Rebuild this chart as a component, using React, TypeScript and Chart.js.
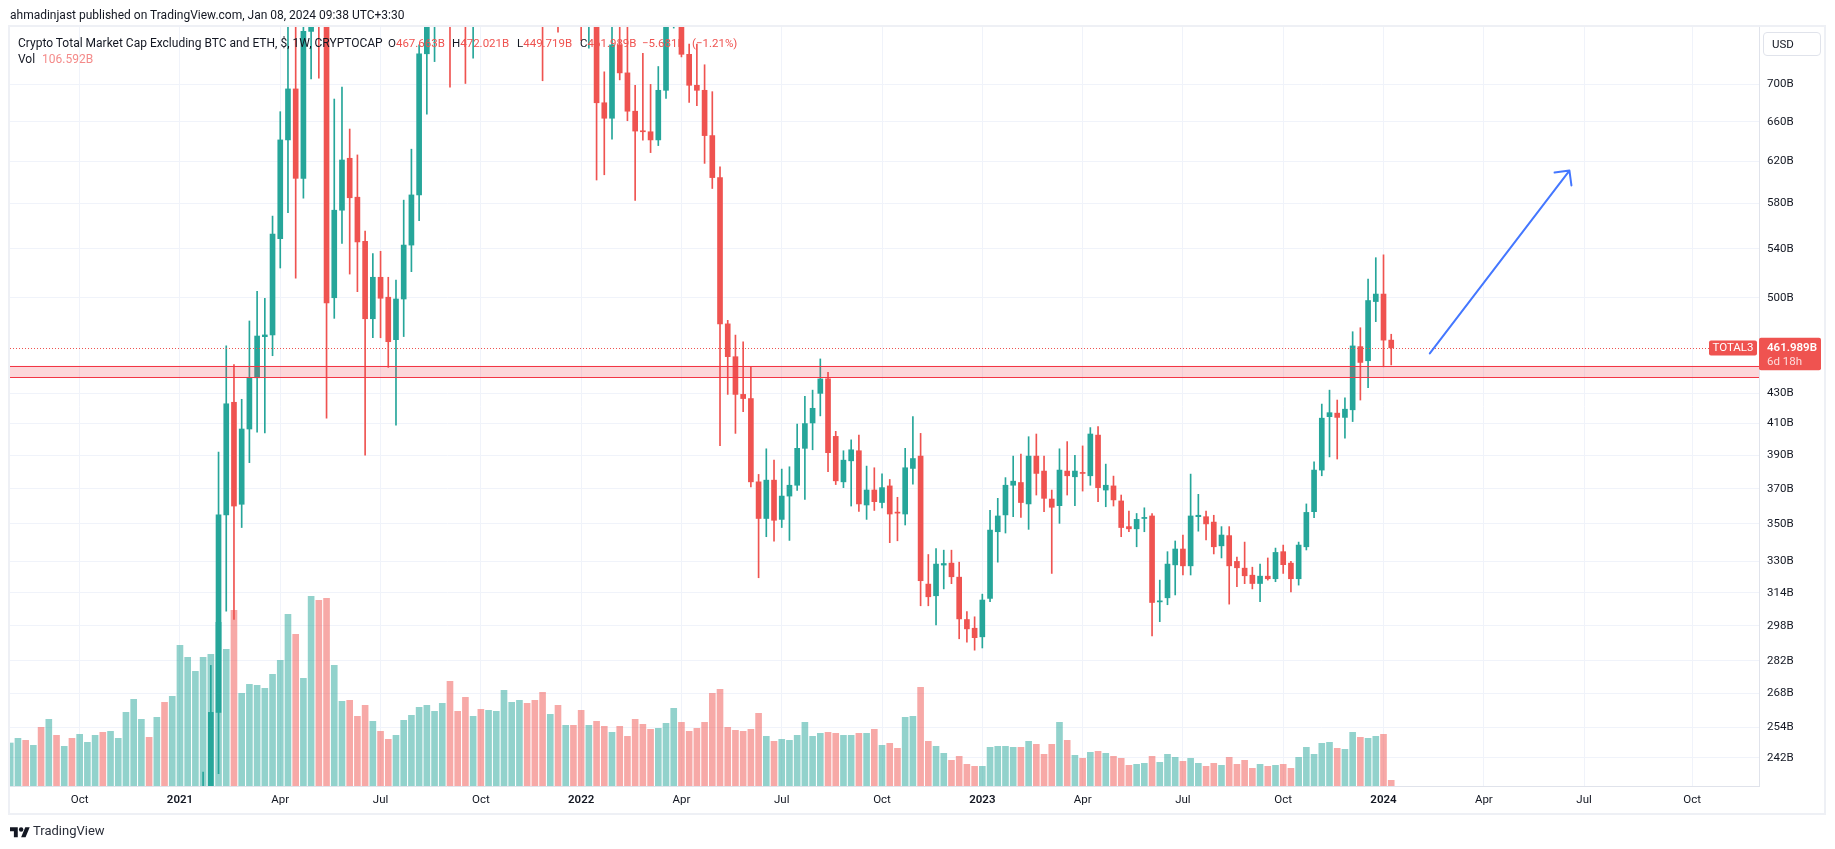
import React, { useEffect, useRef } from 'react';
import { Chart, registerables } from 'chart.js';

Chart.register(...registerables);

// ---------------- data (weekly candles, values in billions USD) ----------------
// week offset of the first candle, counted from the week of 2024-01-01 (first candle = week of 2020-08-03)
const FIRST_WEEK = -178;

const OPEN = [
  98, 108, 113, 106, 110, 92, 98, 93, 95, 90,
  92, 96, 98, 94, 98, 104, 112, 125, 130, 122,
  132, 128, 140, 175, 190, 198, 222, 260, 355, 424,
  361, 406.5, 440.7, 470.2, 471.5, 548.8, 641.3, 695, 603.6, 761,
  820, 800, 500, 574, 623, 585.9, 546.5, 483.7, 516.4, 500.4,
  468, 499, 543.3, 588, 734.6, 800, 830, 880, 820, 800,
  780, 830, 820, 860, 880, 940, 980, 1060, 1040, 990,
  880, 890, 820, 850, 830, 780, 790, 680, 663.6, 745,
  712.8, 671, 650.3, 649.6, 641.3, 693.5, 790, 800, 734, 699,
  693.5, 645.7, 604.3, 479.8, 455.6, 429.3, 426.5, 374, 353, 375,
  352.5, 365.7, 372, 394.3, 410.4, 430, 440, 401.8, 374, 386.6,
  392.8, 360.6, 369.2, 362, 371.6, 356.5, 355.5, 382, 389.5, 318.3,
  312.5, 328, 329, 321.8, 301, 296.9, 292.9, 311.2, 345.7, 355,
  372, 373.6, 361.2, 389.5, 380.4, 364, 360.2, 380.4, 377, 379.4,
  377.6, 402.6, 369.2, 371.6, 362.9, 348.5, 347.3, 353, 354.4, 309.5,
  311.5, 328.1, 336.4, 327.6, 354, 354, 351, 338.1, 343.6, 329.9,
  326.4, 322.8, 318.6, 322.3, 321, 335, 329, 321, 337.6, 356.8,
  381, 414.5, 416.8, 414, 419, 462.9, 452.7, 497, 502.9, 467.663,
];

const HIGH = [
  112, 118, 116, 113, 112, 101, 100, 98, 97, 95,
  98, 101, 100, 100, 106, 115, 130, 134, 133, 136,
  140, 145, 182, 200, 205, 236.6, 280, 392, 463.5, 450,
  426, 482, 505, 499.5, 568.7, 670.5, 790, 775, 800, 880,
  900, 860, 684, 697, 652.4, 626.3, 555.5, 536, 538, 516.4,
  514.2, 583.2, 632, 745, 830, 860, 900, 960, 860, 830,
  850, 900, 880, 910, 960, 1000, 1080, 1130, 1060, 1010,
  910, 900, 870, 880, 850, 800, 810, 714, 775, 772,
  767, 699, 735, 700, 720, 810, 840, 830, 746, 746,
  722, 692, 614.6, 482.5, 471.4, 466.5, 448.4, 378.4, 394, 387,
  381.6, 383, 409.6, 428, 432.2, 454, 444.5, 405, 392.8, 399.6,
  402.6, 383.4, 382.4, 378.8, 375.4, 365, 394.3, 414.5, 403.7, 333.5,
  336.7, 335.8, 335.8, 329.5, 304.8, 302.3, 313.3, 357.6, 364.4, 376.5,
  389.5, 390.7, 401.6, 403.3, 389.5, 369.2, 394, 398.5, 390, 395.8,
  407.4, 408, 384.6, 377.4, 366.3, 357.2, 355.8, 359, 355.8, 320.3,
  335, 340.7, 343.9, 378.6, 366.7, 357.2, 354.8, 348.5, 348.5, 332.2,
  340.1, 326.9, 328.5, 331.7, 336.9, 338.5, 329.9, 340.1, 361.2, 386,
  422.8, 432.2, 425.5, 427, 473.9, 476.9, 515, 532.6, 535, 472.021,
];

const LOW = [
  95, 104, 104, 103, 88, 89, 90, 91, 88, 88,
  90, 94, 92, 92, 96, 102, 110, 118, 117, 120,
  120, 125, 136, 160, 170, 185, 215, 236, 305, 301,
  348, 385.5, 404.5, 404, 456.3, 524, 571.8, 515.6, 585, 706,
  707, 413.5, 484, 544.7, 519, 504.8, 390, 469.4, 469.4, 448,
  409, 470.3, 521, 564.6, 667.8, 725.6, 767, 697, 775, 701,
  729.5, 790, 790, 820, 850, 900, 950, 1000, 950, 704,
  790, 760, 790, 800, 750, 741, 602, 607, 642, 705,
  661, 583, 641, 628.6, 635.6, 684.6, 765, 731, 680.5, 677,
  618, 594, 396, 429.3, 403.7, 417.8, 371, 321.5, 343, 340.6,
  348, 341, 369, 363.8, 393.4, 415, 380, 372.4, 370.6, 360,
  357, 352.5, 357.5, 359, 339.8, 340.8, 349.4, 372.6, 307.6, 307.6,
  298.5, 315.9, 318.5, 292, 290.4, 286.8, 287.8, 309.6, 329.5, 345,
  354, 353.6, 347, 366.3, 356.8, 323.7, 350.3, 366.3, 360.2, 368.6,
  372, 362.5, 359.6, 360, 343, 345.7, 337.6, 345.7, 293.3, 300,
  308.1, 312.9, 322.9, 322.9, 346, 341.2, 333.8, 331.7, 308.4, 317,
  318.5, 315.9, 309.6, 320.3, 319.5, 323.7, 314.4, 317.8, 335.9, 353.4,
  377.6, 389, 387.7, 400.6, 411.3, 425.5, 433.9, 481.5, 448.4, 449.719,
];

const CLOSE = [
  108, 113, 106, 110, 92, 98, 93, 95, 90, 92,
  96, 98, 94, 98, 104, 112, 125, 130, 122, 132,
  128, 140, 175, 190, 198, 222, 260, 355, 423, 360,
  406.5, 440.7, 470.7, 471.5, 552.8, 641.3, 695, 603.6, 761, 820,
  800, 496, 574, 621.3, 585.4, 546, 483.7, 516.4, 499.6, 466.5,
  499, 543.3, 588, 734.6, 800, 830, 880, 820, 800, 780,
  830, 820, 860, 880, 940, 980, 1060, 1040, 990, 880,
  890, 820, 850, 830, 780, 790, 680, 663.6, 745, 712.8,
  671, 650.3, 649.6, 641.3, 693.5, 790, 800, 734, 699, 693.5,
  645.7, 604.3, 479.8, 455.6, 429.3, 426.5, 374, 353, 375, 352,
  365.7, 372, 394.3, 410, 420, 439.9, 391.6, 374.6, 387, 393.4,
  361.2, 369.2, 362.5, 370.6, 355.5, 356, 382.4, 388, 320, 312,
  328.5, 328.8, 322, 301.3, 296.6, 292.5, 310.4, 346.6, 354.4, 372,
  374.4, 362, 389.5, 379, 364.4, 359.3, 381, 377.6, 380.4, 379,
  403.3, 370.6, 372, 363.5, 348, 347.3, 352.5, 353.6, 309.2, 310,
  328.5, 336.4, 327.6, 354.4, 354.8, 350, 337.6, 343.9, 327.6, 326.6,
  322.5, 318.6, 322.3, 321, 334.6, 328.2, 321, 338.5, 356.4, 381,
  413.5, 417.1, 414, 419.4, 463.4, 451.5, 497.8, 502.9, 467.67, 461.989,
];

const VOLUME = [
  770, 853, 817, 729, 1048, 1191, 906, 711, 853, 924,
  782, 906, 960, 977, 853, 1315, 1546, 1191, 871, 1226,
  1493, 1599, 2505, 2292, 2043, 2292, 2346, 2914, 2434, 3127,
  1653, 1812, 1795, 1741, 1990, 2239, 3056, 2701, 1919, 3376,
  3305, 3341, 2150, 1510, 1528, 1244, 1439, 1155, 977, 835,
  906, 1173, 1262, 1404, 1439, 1333, 1475, 1866, 1333, 1581,
  1244, 1368, 1350, 1333, 1706, 1493, 1528, 1475, 1528, 1670,
  1279, 1439, 1084, 1084, 1350, 1084, 1155, 1066, 960, 1066,
  888, 1191, 1102, 1013, 1031, 1119, 1386, 1137, 977, 1031,
  1137, 1653, 1724, 1048, 995, 977, 1013, 1297, 888, 800,
  835, 817, 906, 1137, 888, 942, 960, 942, 906, 906,
  942, 942, 1013, 729, 764, 675, 1226, 1244, 1759, 800,
  711, 586, 462, 533, 391, 355, 355, 693, 711, 711,
  693, 693, 800, 746, 569, 746, 1137, 817, 551, 498,
  604, 622, 586, 533, 498, 373, 391, 409, 533, 426,
  569, 515, 444, 498, 409, 355, 409, 373, 515, 391,
  462, 320, 391, 355, 373, 391, 320, 515, 693, 569,
  764, 782, 675, 657, 960, 871, 853, 888, 924, 106.592,
];

const Y_TICKS = [242, 254, 268, 282, 298, 314, 330, 350, 370, 390, 410, 430, 500, 540, 580, 620, 660, 700];
const X_TICK_WEEKS = [-169, -156, -143, -130, -117, -104, -91, -78, -65, -52, -39, -26, -13, 0, 13, 26, 40];
const X_TICK_LABELS = ['Oct', '2021', 'Apr', 'Jul', 'Oct', '2022', 'Apr', 'Jul', 'Oct', '2023', 'Apr', 'Jul', 'Oct', '2024', 'Apr', 'Jul', 'Oct'];

const ZONE_LOW = 441;
const ZONE_HIGH = 449.1;
const ARROW_FROM = { week: 6, value: 458 };
const ARROW_TO = { week: 24.1, value: 611 };

const SYMBOL = 'TOTAL3';
const COUNTDOWN = '6d 18h';
const TITLE = 'Crypto Total Market Cap Excluding BTC and ETH, $, 1W, CRYPTOCAP';
const PUBLISHED = 'ahmadinjast published on TradingView.com, Jan 08, 2024 09:38 UTC+3:30';

// ---------------- view / style ----------------
const X_MIN = -178.03;
const X_MAX = 48.67;
const Y_MIN = 231.5;
const Y_MAX = 766.3;
const VOL_MAX = 13487;

const UP = '#26a69a';
const DOWN = '#ef5350';
const VOL_UP = 'rgba(38,166,154,0.5)';
const VOL_DOWN = 'rgba(239,83,80,0.5)';
const GRID = '#f0f3fa';
const TEXT = '#131722';
const FONT = 'Roboto, "Noto Sans", sans-serif';

const fmtB = (v: number) => v.toFixed(3) + 'B';
const minus = (v: number) => (v < 0 ? '\u2212' : '+') + Math.abs(v).toFixed(3);

function roundRect(ctx: CanvasRenderingContext2D, x: number, y: number, w: number, h: number, r: number) {
  ctx.beginPath();
  ctx.moveTo(x + r, y);
  ctx.lineTo(x + w - r, y);
  ctx.quadraticCurveTo(x + w, y, x + w, y + r);
  ctx.lineTo(x + w, y + h - r);
  ctx.quadraticCurveTo(x + w, y + h, x + w - r, y + h);
  ctx.lineTo(x + r, y + h);
  ctx.quadraticCurveTo(x, y + h, x, y + h - r);
  ctx.lineTo(x, y + r);
  ctx.quadraticCurveTo(x, y, x + r, y);
  ctx.closePath();
}

const overlayPlugin = {
  id: 'tvOverlays',
  afterDatasetsDraw(chart: any) {
    const { ctx, chartArea: a } = chart;
    const x = chart.scales.x;
    const y = chart.scales.y;
    ctx.save();
    ctx.beginPath();
    ctx.rect(a.left, a.top, a.right - a.left, a.bottom - a.top);
    ctx.clip();

    // support zone
    const zt = y.getPixelForValue(ZONE_HIGH);
    const zb = y.getPixelForValue(ZONE_LOW);
    ctx.fillStyle = 'rgba(242,54,69,0.2)';
    ctx.fillRect(a.left, zt, a.right - a.left, zb - zt);
    ctx.strokeStyle = '#f23645';
    ctx.lineWidth = 1.2;
    ctx.beginPath();
    ctx.moveTo(a.left, Math.round(zt) + 0.5);
    ctx.lineTo(a.right, Math.round(zt) + 0.5);
    ctx.moveTo(a.left, Math.round(zb) + 0.5);
    ctx.lineTo(a.right, Math.round(zb) + 0.5);
    ctx.stroke();

    // last price dotted line
    const last = CLOSE.length - 1;
    const py = Math.round(y.getPixelForValue(CLOSE[last])) + 0.5;
    ctx.strokeStyle = DOWN;
    ctx.lineWidth = 1;
    ctx.setLineDash([1, 2]);
    ctx.beginPath();
    ctx.moveTo(a.left, py);
    ctx.lineTo(a.right, py);
    ctx.stroke();
    ctx.setLineDash([]);

    // arrow drawing
    const x1 = x.getPixelForValue(ARROW_FROM.week);
    const y1 = y.getPixelForValue(ARROW_FROM.value);
    const x2 = x.getPixelForValue(ARROW_TO.week);
    const y2 = y.getPixelForValue(ARROW_TO.value);
    const ang = Math.atan2(y2 - y1, x2 - x1);
    ctx.strokeStyle = '#4477ff';
    ctx.lineWidth = 2;
    ctx.lineCap = 'round';
    ctx.beginPath();
    ctx.moveTo(x1, y1);
    ctx.lineTo(x2, y2);
    for (const s of [-1, 1]) {
      const b = ang + Math.PI + (s * Math.PI) / 4;
      ctx.moveTo(x2, y2);
      ctx.lineTo(x2 + 15 * Math.cos(b), y2 + 15 * Math.sin(b));
    }
    ctx.stroke();
    ctx.restore();
  },
  afterDraw(chart: any) {
    const { ctx, chartArea: a } = chart;
    const y = chart.scales.y;
    const last = CLOSE.length - 1;
    const py = y.getPixelForValue(CLOSE[last]);
    ctx.save();
    // symbol tag
    ctx.fillStyle = DOWN;
    roundRect(ctx, a.right - 50, py - 7.3, 48, 15, 2);
    ctx.fill();
    ctx.fillStyle = '#ffffff';
    ctx.font = `11.5px ${FONT}`;
    ctx.textAlign = 'center';
    ctx.textBaseline = 'middle';
    ctx.fillText(SYMBOL, a.right - 26, py + 0.5);
    // price + countdown tag on the axis
    ctx.fillStyle = DOWN;
    roundRect(ctx, a.right, py - 10, 62, 32.5, 2);
    ctx.fill();
    ctx.textAlign = 'left';
    ctx.fillStyle = '#ffffff';
    ctx.font = `600 11.5px ${FONT}`;
    ctx.fillText(fmtB(CLOSE[last]), a.right + 8, py);
    ctx.fillStyle = 'rgba(255,255,255,0.8)';
    ctx.font = `11.5px ${FONT}`;
    ctx.fillText(COUNTDOWN, a.right + 8, py + 14.5);
    ctx.restore();
  },
};

export default function App() {
  const canvasRef = useRef<HTMLCanvasElement | null>(null);

  useEffect(() => {
    const canvas = canvasRef.current;
    if (!canvas) return;
    const weeks = OPEN.map((_, i) => FIRST_WEEK + i);
    const up = (i: number) => CLOSE[i] >= OPEN[i];
    const candleColors = weeks.map((_, i) => (up(i) ? UP : DOWN));
    const volColors = weeks.map((_, i) => (up(i) ? VOL_UP : VOL_DOWN));

    const chart = new Chart(canvas, {
      type: 'bar',
      data: {
        datasets: [
          {
            label: 'Volume',
            yAxisID: 'yVol',
            data: weeks.map((w, i) => ({ x: w, y: VOLUME[i] })),
            backgroundColor: volColors,
            borderWidth: 0,
            barPercentage: 0.86,
            categoryPercentage: 1,
            grouped: false,
            order: 3,
            clip: 0,
          } as any,
          {
            label: 'Wick',
            yAxisID: 'y',
            data: weeks.map((w, i) => ({ x: w, y: [LOW[i], HIGH[i]] })),
            backgroundColor: candleColors,
            borderWidth: 0,
            barThickness: 1,
            grouped: false,
            order: 2,
            clip: 0,
          } as any,
          {
            label: 'Body',
            yAxisID: 'y',
            data: weeks.map((w, i) => ({ x: w, y: [Math.min(OPEN[i], CLOSE[i]), Math.max(OPEN[i], CLOSE[i])] })),
            backgroundColor: candleColors,
            borderWidth: 0,
            barThickness: 5,
            minBarLength: 1,
            grouped: false,
            order: 1,
            clip: 0,
          } as any,
        ],
      },
      options: {
        animation: false,
        responsive: false,
        events: [],
        layout: { padding: { left: 10, top: 27, right: 0, bottom: 35 } },
        plugins: { legend: { display: false }, tooltip: { enabled: false } },
        scales: {
          x: {
            type: 'linear',
            min: X_MIN,
            max: X_MAX,
            bounds: 'data',
            offset: false,
            afterBuildTicks: (s: any) => {
              s.ticks = X_TICK_WEEKS.map((v) => ({ value: v }));
            },
            afterFit: (s: any) => {
              s.height = 28;
            },
            ticks: {
              autoSkip: false,
              maxRotation: 0,
              padding: 7,
              color: TEXT,
              font: (c: any) => ({
                family: FONT,
                size: 11.5,
                weight: /^\d{4}$/.test(X_TICK_LABELS[c.index] || '') ? '600' : '400',
              }),
              callback: (_v: any, i: number) => X_TICK_LABELS[i],
            },
            grid: { color: GRID, drawTicks: false, offset: false },
            border: { display: true, color: '#e0e3eb' },
          } as any,
          y: {
            type: 'logarithmic',
            position: 'right',
            min: Y_MIN,
            max: Y_MAX,
            bounds: 'data',
            afterBuildTicks: (s: any) => {
              s.ticks = Y_TICKS.map((v) => ({ value: v }));
            },
            afterFit: (s: any) => {
              s.width = 76;
            },
            ticks: {
              padding: 8,
              color: TEXT,
              font: { family: FONT, size: 11.5 },
              callback: (v: any) => `${v}B`,
            },
            grid: { color: GRID, drawTicks: false },
            border: { display: true, color: '#e0e3eb' },
          } as any,
          yVol: {
            type: 'linear',
            display: false,
            min: 0,
            max: VOL_MAX,
          },
        },
      },
      plugins: [overlayPlugin],
    });
    return () => chart.destroy();
  }, []);

  const last = CLOSE.length - 1;
  const chg = CLOSE[last] - CLOSE[last - 1];
  const pct = (chg / CLOSE[last - 1]) * 100;
  const red = DOWN;
  const textBase: React.CSSProperties = {
    position: 'absolute',
    fontFamily: FONT,
    fontSize: 11.5,
    lineHeight: '16px',
    color: TEXT,
    whiteSpace: 'nowrap',
  };

  return (
    <div style={{ position: 'absolute', left: 0, top: 0, width: 1835, height: 849, background: '#ffffff', overflow: 'hidden' }}>
      <canvas ref={canvasRef} width={1835} height={849} style={{ position: 'absolute', left: 0, top: 0, width: 1835, height: 849 }} />
      {/* snapshot frame */}
      <div style={{ position: 'absolute', left: 8, top: 25, width: 1818, height: 789.5, boxSizing: 'border-box', border: '2px solid #eef0f5', pointerEvents: 'none' }} />
      <div style={{ ...textBase, left: 10, top: 7, fontSize: 12 }}>{PUBLISHED}</div>
      <div style={{ ...textBase, left: 18, top: 34.5, fontSize: 12 }}>{TITLE}</div>
      <div style={{ ...textBase, left: 388, top: 34.5 }}>O<span style={{ color: red }}>{fmtB(OPEN[last])}</span></div>
      <div style={{ ...textBase, left: 452, top: 34.5 }}>H<span style={{ color: red }}>{fmtB(HIGH[last])}</span></div>
      <div style={{ ...textBase, left: 517, top: 34.5 }}>L<span style={{ color: red }}>{fmtB(LOW[last])}</span></div>
      <div style={{ ...textBase, left: 580, top: 34.5 }}>C<span style={{ color: red }}>{fmtB(CLOSE[last])}</span></div>
      <div style={{ ...textBase, left: 642, top: 34.5, color: red }}>{minus(chg)}B</div>
      <div style={{ ...textBase, left: 692, top: 34.5, color: red }}>({'\u2212'}{Math.abs(pct).toFixed(2)}%)</div>
      <div style={{ ...textBase, left: 18, top: 51, fontSize: 12 }}>Vol</div>
      <div style={{ ...textBase, left: 42, top: 51, fontSize: 12, color: '#f48b8a' }}>{fmtB(VOLUME[last])}</div>
      {/* currency button */}
      <div style={{ position: 'absolute', left: 1763, top: 31.5, width: 58, height: 24.5, boxSizing: 'border-box', border: '1px solid #e0e3eb', borderRadius: 4, fontFamily: FONT, fontSize: 11.5, lineHeight: '22.5px', color: TEXT, paddingLeft: 8 }}>USD</div>
      {/* footer */}
      <svg style={{ position: 'absolute', left: 10, top: 824.5 }} width={20} height={15.6} viewBox="0 0 36 28">
        <path d="M14 22H7V11H0V4h14v18zM28 22h-8l7.5-18h8L28 22z" fill={TEXT} />
        <circle cx={20} cy={8} r={4} fill={TEXT} />
      </svg>
      <div style={{ ...textBase, left: 33, top: 823, fontSize: 13, color: '#2a2e39' }}>TradingView</div>
    </div>
  );
}
